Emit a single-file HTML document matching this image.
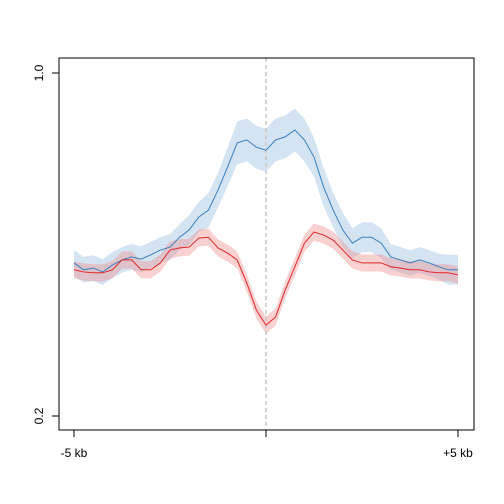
<!DOCTYPE html>
<html><head><meta charset="utf-8"><style>body{margin:0;background:#fff}svg{display:block;font-family:"Liberation Sans",Arial,sans-serif}</style></head>
<body>
<svg id="chart" width="504" height="504"></svg>
<script>
const positions = [-5,-4.75,-4.5,-4.25,-4,-3.75,-3.5,-3.25,-3,-2.75,-2.5,-2.25,-2,-1.75,-1.5,-1.25,-1,-0.75,-0.5,-0.25,0,0.25,0.5,0.75,1,1.25,1.5,1.75,2,2.25,2.5,2.75,3,3.25,3.5,3.75,4,4.25,4.5,4.75,5];
const blueValues = [0.557,0.541,0.545,0.536,0.552,0.564,0.571,0.566,0.576,0.587,0.594,0.617,0.634,0.664,0.680,0.727,0.781,0.837,0.844,0.827,0.820,0.844,0.851,0.867,0.844,0.804,0.734,0.680,0.634,0.603,0.617,0.617,0.603,0.571,0.564,0.557,0.564,0.557,0.548,0.541,0.541];
const blueSpread = [0.03,0.03,0.03,0.03,0.03,0.03,0.03,0.03,0.03,0.03,0.03,0.03,0.035,0.035,0.04,0.04,0.045,0.05,0.05,0.05,0.05,0.05,0.05,0.05,0.05,0.045,0.045,0.04,0.04,0.035,0.035,0.035,0.035,0.03,0.03,0.03,0.03,0.03,0.03,0.035,0.035];
const redValues = [0.541,0.536,0.534,0.534,0.541,0.564,0.564,0.541,0.541,0.557,0.587,0.592,0.594,0.615,0.617,0.592,0.580,0.564,0.510,0.447,0.412,0.431,0.494,0.548,0.603,0.629,0.622,0.610,0.587,0.564,0.557,0.557,0.557,0.548,0.545,0.541,0.541,0.536,0.534,0.534,0.529];
const redSpread = [0.02,0.02,0.02,0.02,0.02,0.02,0.02,0.02,0.02,0.02,0.02,0.02,0.02,0.02,0.02,0.02,0.02,0.02,0.02,0.02,0.02,0.02,0.02,0.02,0.02,0.02,0.02,0.02,0.02,0.02,0.02,0.02,0.02,0.02,0.02,0.02,0.02,0.02,0.02,0.02,0.02];
const yTicks = [1.0, 0.2];
const yTickLabels = ["1.0","0.2"];
const xTicks = [-5,0,5];
const xTickLabels = ["-5 kb","","+5 kb"];

const NS="http://www.w3.org/2000/svg", svg=document.getElementById('chart');
const X = v => 266 + v*38.4;
const Y = v => 73 + (1.0 - v)*428.75;
function mk(t,a,p){const e=document.createElementNS(NS,t);for(const k in a)e.setAttribute(k,a[k]);(p||svg).appendChild(e);return e;}

function band(vals,spread,fill,name){
  let up=positions.map((p,i)=>X(p)+','+Y(vals[i]+spread[i]));
  let dn=positions.map((p,i)=>X(p)+','+Y(vals[i]-spread[i])).reverse();
  const e=mk('polygon',{points:up.concat(dn).join(' '),fill:fill,stroke:'none'});
  
  
}
function line(vals,color,name){
  const e=mk('polyline',{points:positions.map((p,i)=>X(p)+','+Y(vals[i])).join(' '),fill:'none',stroke:color,'stroke-width':1});
  
  
}
band(blueValues,blueSpread,'rgba(160,195,228,0.45)','blue-band');
band(redValues,redSpread,'rgba(240,140,140,0.4)','red-band');
const c=mk('line',{x1:X(0),x2:X(0),y1:58,y2:430,stroke:'#c8c8c8','stroke-width':1.5,'stroke-dasharray':'4,3'});


line(blueValues,'#3a7fbf','blue-series');
line(redValues,'#e0262a','red-series');

const box=mk('rect',{x:59,y:58,width:415,height:372,fill:'none',stroke:'#000','stroke-width':1});


yTicks.forEach((v,i)=>{
  const t=mk('line',{x1:52,x2:59,y1:Y(v),y2:Y(v),stroke:'#000'});
  
  
  const l=mk('text',{x:43,y:Y(v),'font-size':12,'text-anchor':'middle',transform:`rotate(-90 43 ${Y(v)})`});
  l.textContent=yTickLabels[i];
  
  
});
xTicks.forEach((v,i)=>{
  const t=mk('line',{x1:X(v),x2:X(v),y1:430,y2:437,stroke:'#000'});
  
  
  const l=mk('text',{x:X(v),y:457,'font-size':12,'text-anchor':'middle'});
  l.textContent=xTickLabels[i];
  
  
});
</script>
</body></html>
